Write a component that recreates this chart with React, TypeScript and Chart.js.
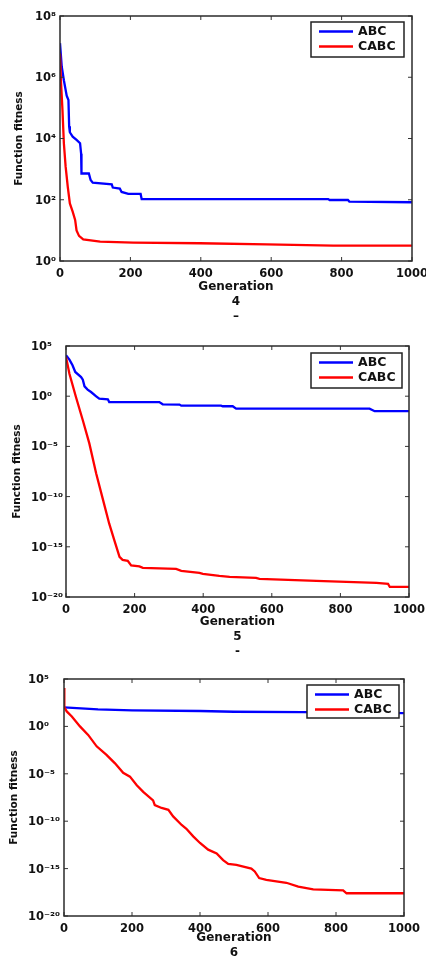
import React, { useEffect, useRef } from 'react';
import { Chart, registerables } from 'chart.js';

Chart.register(...registerables);

// ---------- data ----------
const SERIES_LABELS = ['ABC', 'CABC'];
const SERIES_COLORS = ['#0000ff', '#ff0000'];
const PANEL_CAPTIONS = [['Generation', '4', '–'], ['Generation', '5', '-'], ['Generation', '6']];
const GEN_TICKS = [0, 200, 400, 600, 800, 1000];
const FIT_TICKS_4 = [1e0, 1e2, 1e4, 1e6, 1e8];
const FIT_TICKS_5 = [1e-20, 1e-15, 1e-10, 1e-5, 1e0, 1e5];
const FIT_TICKS_6 = [1e-20, 1e-15, 1e-10, 1e-5, 1e0, 1e5];

// Panel 4
const F4_ABC_GEN = [0, 5, 11, 19, 24, 26, 28, 36, 47, 57, 60, 61, 82, 87, 93, 147, 150, 170, 175, 194, 229, 232, 762, 766, 818, 822, 1000];
const F4_ABC_FIT = [1.3e7, 2.2e6, 8e5, 2.5e5, 1.8e5, 2.5e4, 1.6e4, 1.15e4, 9e3, 7e3, 3.2e3, 7.2e2, 7.2e2, 4.4e2, 3.6e2, 3.2e2, 2.5e2, 2.3e2, 1.8e2, 1.55e2, 1.55e2, 1.05e2, 1.05e2, 98, 98, 87, 83];
const F4_CABC_GEN = [0, 3, 7, 11, 16, 22, 28, 36, 43, 47, 54, 66, 114, 208, 397, 587, 776, 1000];
const F4_CABC_FIT = [6e6, 6.3e5, 8.5e4, 7e3, 1.2e3, 2.7e2, 76, 41, 22, 10, 6.6, 5.1, 4.3, 4.0, 3.8, 3.5, 3.2, 3.2];

// Panel 5
const F5_ABC_GEN = [0, 10, 19, 27, 44, 49, 54, 63, 73, 88, 97, 122, 126, 272, 282, 331, 336, 452, 457, 486, 496, 885, 900, 1000];
const F5_ABC_FIT = [1.2e4, 4.4e3, 1.2e3, 2.6e2, 81, 45, 9.5, 4.5, 2.6, 0.98, 0.56, 0.49, 0.26, 0.26, 0.155, 0.145, 0.115, 0.115, 0.1, 0.1, 0.058, 0.058, 0.032, 0.032];
const F5_CABC_GEN = [0, 10, 29, 49, 68, 88, 107, 126, 141, 156, 165, 180, 190, 214, 224, 321, 336, 389, 399, 447, 477, 554, 564, 730, 905, 939, 944, 1000];
const F5_CABC_FIT = [8e3, 1.7e2, 0.83, 4e-3, 2e-5, 2e-8, 6.3e-11, 2e-13, 4.4e-15, 1e-16, 5e-17, 4e-17, 1.4e-17, 1.1e-17, 7.9e-18, 6.3e-18, 4e-18, 2.5e-18, 2e-18, 1.26e-18, 1e-18, 7.9e-19, 6.3e-19, 4e-19, 2.5e-19, 2e-19, 1e-19, 1e-19];

// Panel 6
const F6_ABC_GEN = [0, 50, 100, 200, 400, 500, 700, 1000];
const F6_ABC_FIT = [100, 79, 63, 50, 42, 35, 32, 25];
const F6_CABC_GEN = [0, 1, 8, 23, 47, 71, 96, 125, 150, 174, 194, 214, 233, 262, 267, 287, 307, 321, 346, 360, 380, 400, 424, 449, 468, 483, 507, 551, 561, 574, 595, 654, 689, 733, 821, 831, 1000];
const F6_CABC_FIT = [1.1e4, 100, 38, 11, 1, 0.126, 7.9e-3, 1e-3, 1.26e-4, 1.26e-5, 5e-6, 6.3e-7, 1.26e-7, 1.6e-8, 5e-9, 2.5e-9, 1.6e-9, 3.2e-10, 4e-11, 1.6e-11, 2.5e-12, 5e-13, 1e-13, 4e-14, 7.9e-15, 3.2e-15, 2.5e-15, 1e-15, 5e-16, 1e-16, 6.3e-17, 3.2e-17, 1.26e-17, 6.3e-18, 5e-18, 2.5e-18, 2.5e-18];

// ---------- helpers ----------
const SUP: Record<string, string> = { '-': '⁻', '0': '⁰', '1': '¹', '2': '²', '3': '³', '4': '⁴', '5': '⁵', '6': '⁶', '7': '⁷', '8': '⁸', '9': '⁹' };
const pow10Label = (v: number) => '10' + String(Math.round(Math.log10(v))).split('').map((c) => SUP[c] || c).join('');
const toPoints = (gen: number[], fit: number[]) => gen.map((g, i) => ({ x: g, y: fit[i] }));

const FONT = '"DejaVu Sans", "Liberation Sans", Arial, sans-serif';
const TEXT = '#111';

type LegendBox = { x: number; y: number; w: number; h: number };

function framePlugin(legend: LegendBox) {
  return {
    id: 'frameAndLegend',
    afterDatasetsDraw(chart: any) {
      const { ctx, chartArea: a } = chart;
      const xs = chart.scales.x;
      const ys = chart.scales.y;
      ctx.save();
      ctx.strokeStyle = '#333';
      ctx.lineWidth = 1;
      const L = 4;
      ctx.beginPath();
      xs.ticks.forEach((t: any) => {
        const p = xs.getPixelForValue(t.value);
        ctx.moveTo(p, a.bottom); ctx.lineTo(p, a.bottom - L);
        ctx.moveTo(p, a.top); ctx.lineTo(p, a.top + L);
      });
      ys.ticks.forEach((t: any) => {
        const p = ys.getPixelForValue(t.value);
        ctx.moveTo(a.left, p); ctx.lineTo(a.left + L, p);
        ctx.moveTo(a.right, p); ctx.lineTo(a.right - L, p);
      });
      ctx.stroke();
      ctx.lineWidth = 1.5;
      ctx.strokeStyle = '#2b2b2b';
      ctx.strokeRect(a.left, a.top, a.right - a.left, a.bottom - a.top);

      // legend
      const { x, y, w, h } = legend;
      ctx.fillStyle = '#fff';
      ctx.fillRect(x, y, w, h);
      ctx.strokeStyle = '#222';
      ctx.lineWidth = 1.5;
      ctx.strokeRect(x, y, w, h);
      ctx.font = `bold 12.5px ${FONT}`;
      ctx.textBaseline = 'middle';
      ctx.textAlign = 'left';
      chart.data.datasets.forEach((ds: any, i: number) => {
        const ry = y + 9.5 + i * 15;
        ctx.strokeStyle = ds.borderColor;
        ctx.lineWidth = 2.3;
        ctx.beginPath();
        ctx.moveTo(x + 8, ry);
        ctx.lineTo(x + 42, ry);
        ctx.stroke();
        ctx.fillStyle = TEXT;
        ctx.fillText(ds.label, x + 47, ry + 0.5);
      });
      ctx.restore();
    },
  };
}

type PanelProps = {
  top: number;
  height: number;
  pad: { top: number; right: number; bottom: number; left: number };
  yWidth: number;
  xHeight: number;
  yLabelLeft: number;
  yTitlePad: number;
  yMin: number;
  yMax: number;
  yTicks: number[];
  caption: string[];
  abc: { x: number; y: number }[];
  cabc: { x: number; y: number }[];
  legend: LegendBox;
};

function Panel(p: PanelProps) {
  const ref = useRef<HTMLCanvasElement | null>(null);
  useEffect(() => {
    if (!ref.current) return;
    const chart = new Chart(ref.current, {
      type: 'line',
      data: {
        datasets: [
          { label: SERIES_LABELS[0], data: p.abc, borderColor: SERIES_COLORS[0], borderWidth: 2.3, pointRadius: 0, tension: 0, order: 1 },
          { label: SERIES_LABELS[1], data: p.cabc, borderColor: SERIES_COLORS[1], borderWidth: 2.3, pointRadius: 0, tension: 0, order: 0 },
        ],
      },
      options: {
        animation: false,
        responsive: false,
        devicePixelRatio: 1,
        layout: { padding: p.pad },
        plugins: { legend: { display: false }, tooltip: { enabled: false } },
        scales: {
          x: {
            type: 'linear',
            min: 0,
            max: 1000,
            grid: { display: false, drawTicks: false },
            border: { display: false },
            afterBuildTicks: (s: any) => { s.ticks = GEN_TICKS.map((v) => ({ value: v })); },
            afterFit: (s: any) => { s.height = p.xHeight; s.paddingLeft = 0; s.paddingRight = 0; },
            ticks: {
              font: { family: FONT, size: 11.5, weight: 'bold' },
              color: TEXT,
              padding: 6,
              maxRotation: 0,
              autoSkip: false,
              callback: (v: any) => String(v),
            },
            title: {
              display: true,
              text: p.caption,
              color: TEXT,
              font: { family: FONT, size: 12, weight: 'bold', lineHeight: 1.25 },
              padding: { top: 0, bottom: 0 },
            },
          },
          y: {
            type: 'logarithmic',
            min: p.yMin,
            max: p.yMax,
            grid: { display: false, drawTicks: false },
            border: { display: false },
            afterBuildTicks: (s: any) => { s.ticks = p.yTicks.map((v) => ({ value: v })); },
            afterFit: (s: any) => { s.width = p.yWidth; s.paddingTop = 0; s.paddingBottom = 0; },
            ticks: {
              font: { family: FONT, size: 11.5, weight: 'bold' },
              color: TEXT,
              mirror: true,
              crossAlign: 'near',
              padding: p.yLabelLeft - p.yWidth,
              labelOffset: 1,
              autoSkip: false,
              callback: (v: any) => pow10Label(Number(v)),
            },
            title: {
              display: true,
              text: 'Function fitness',
              color: TEXT,
              font: { family: FONT, size: 10.5, weight: 'bold', lineHeight: 1.25 },
              padding: { top: p.yTitlePad, bottom: 0 },
            },
          },
        },
      } as any,
      plugins: [framePlugin(p.legend)],
    });
    return () => chart.destroy();
  }, []);
  return (
    <canvas
      ref={ref}
      width={426}
      height={p.height}
      style={{ position: 'absolute', left: 0, top: p.top, width: 426, height: p.height }}
    />
  );
}

export default function App() {
  return (
    <div style={{ position: 'absolute', left: 0, top: 0, width: 426, height: 957, overflow: 'hidden', background: '#fff' }}>
      <Panel
        top={0}
        height={330}
        pad={{ top: 16, right: 14, bottom: 5.5, left: 0 }}
        yWidth={60}
        xHeight={63.5}
        yLabelLeft={35}
        yTitlePad={12.5}
        yMin={1e0}
        yMax={1e8}
        yTicks={FIT_TICKS_4}
        caption={PANEL_CAPTIONS[0]}
        abc={toPoints(F4_ABC_GEN, F4_ABC_FIT)}
        cabc={toPoints(F4_CABC_GEN, F4_CABC_FIT)}
        legend={{ x: 311, y: 22, w: 93, h: 35 }}
      />
      <Panel
        top={320}
        height={340}
        pad={{ top: 26, right: 17, bottom: 0.5, left: 0 }}
        yWidth={66}
        xHeight={62.5}
        yLabelLeft={31}
        yTitlePad={10.5}
        yMin={1e-20}
        yMax={1e5}
        yTicks={FIT_TICKS_5}
        caption={PANEL_CAPTIONS[1]}
        abc={toPoints(F5_ABC_GEN, F5_ABC_FIT)}
        cabc={toPoints(F5_CABC_GEN, F5_CABC_FIT)}
        legend={{ x: 311, y: 33, w: 91, h: 35 }}
      />
      <Panel
        top={640}
        height={330}
        pad={{ top: 39, right: 22, bottom: 9.5, left: 0 }}
        yWidth={64}
        xHeight={44.5}
        yLabelLeft={28}
        yTitlePad={7.5}
        yMin={1e-20}
        yMax={1e5}
        yTicks={FIT_TICKS_6}
        caption={PANEL_CAPTIONS[2]}
        abc={toPoints(F6_ABC_GEN, F6_ABC_FIT)}
        cabc={toPoints(F6_CABC_GEN, F6_CABC_FIT)}
        legend={{ x: 307, y: 45, w: 92, h: 33 }}
      />
    </div>
  );
}
